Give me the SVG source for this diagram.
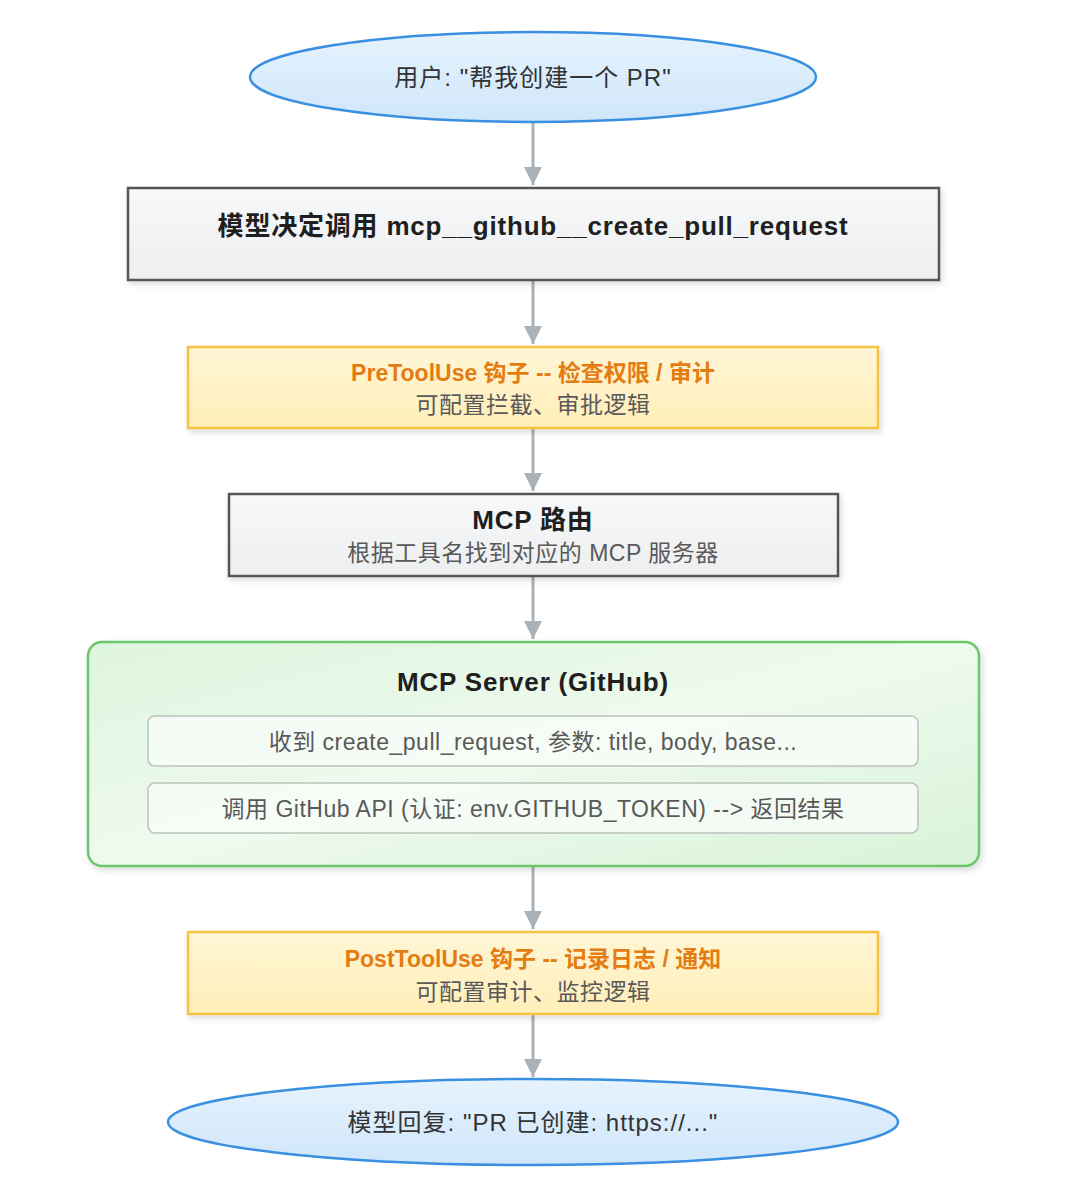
<svg xmlns="http://www.w3.org/2000/svg" width="1080" height="1188" viewBox="0 0 1080 1188">
<defs>
<style>
text{font-family:"Liberation Sans","Noto Sans CJK SC",sans-serif;text-anchor:middle;dominant-baseline:central}
.t{font-size:26px;font-weight:bold;fill:#1f1f1f;letter-spacing:0.8px}
.e{font-size:24px;fill:#333333;letter-spacing:1px}
.o{font-size:23px;font-weight:bold;fill:#e57c12}
.s{font-size:23px;fill:#595959;letter-spacing:0.5px}
.conn line{stroke:#a9b1b9;stroke-width:3;marker-end:url(#ah)}
</style>
<linearGradient id="gb" x1="0" y1="0" x2="0" y2="1"><stop offset="0" stop-color="#e6f3fd"/><stop offset="1" stop-color="#cfe6fa"/></linearGradient>
<linearGradient id="gg" x1="0" y1="0" x2="0" y2="1"><stop offset="0" stop-color="#f7f8f9"/><stop offset="1" stop-color="#eceef0"/></linearGradient>
<linearGradient id="gy" x1="0" y1="0" x2="0" y2="1"><stop offset="0" stop-color="#fff6d6"/><stop offset="1" stop-color="#ffeeb8"/></linearGradient>
<linearGradient id="gn" x1="0" y1="0" x2="1" y2="1"><stop offset="0" stop-color="#def5de"/><stop offset="0.5" stop-color="#eefaee"/><stop offset="1" stop-color="#d8f2d8"/></linearGradient>
<filter id="sh" x="-5%" y="-10%" width="110%" height="130%"><feDropShadow dx="2" dy="3" stdDeviation="3" flood-color="#000" flood-opacity="0.15"/></filter>
<marker id="ah" viewBox="0 0 10 10" refX="10" refY="5" markerWidth="6" markerHeight="6" orient="auto" markerUnits="strokeWidth"><path d="M0,0 L10,5 L0,10 z" fill="#a9b1b9"/></marker>
</defs>
<rect width="1080" height="1188" fill="#ffffff"/>
<g class="conn">
<line x1="533" y1="123" x2="533" y2="185"/>
<line x1="533" y1="281" x2="533" y2="344"/>
<line x1="533" y1="429" x2="533" y2="491"/>
<line x1="533" y1="577" x2="533" y2="639"/>
<line x1="533" y1="867" x2="533" y2="929"/>
<line x1="533" y1="1015" x2="533" y2="1077"/>
</g>
<g id="start">
<ellipse cx="533" cy="77" rx="283" ry="45" fill="url(#gb)" stroke="#3a8fe0" stroke-width="2.5"/>
<text class="e" x="533" y="77">用户: "帮我创建一个 PR"</text>
</g>
<g id="decide">
<rect x="128" y="188" width="811" height="92" fill="url(#gg)" stroke="#555" stroke-width="2.5" filter="url(#sh)"/>
<text class="t" x="533" y="226">模型决定调用 mcp__github__create_pull_request</text>
</g>
<g id="pre">
<rect x="188" y="347" width="690" height="81" fill="url(#gy)" stroke="#f6c243" stroke-width="2.5" filter="url(#sh)"/>
<text class="o" x="533" y="373">PreToolUse 钩子 -- 检查权限 / 审计</text>
<text class="s" x="533" y="405">可配置拦截、审批逻辑</text>
</g>
<g id="route">
<rect x="229" y="494" width="609" height="82" fill="url(#gg)" stroke="#555" stroke-width="2.5" filter="url(#sh)"/>
<text class="t" x="533" y="520">MCP 路由</text>
<text class="s" x="533" y="553">根据工具名找到对应的 MCP 服务器</text>
</g>
<g id="server">
<rect x="88" y="642" width="891" height="224" rx="14" fill="url(#gn)" stroke="#6cc76c" stroke-width="2.5" filter="url(#sh)"/>
<text class="t" x="533" y="682">MCP Server (GitHub)</text>
<rect x="148" y="716" width="770" height="50" rx="7" fill="#f7fbf7" fill-opacity="0.85" stroke="#bcc2bc" stroke-width="1.5"/>
<text class="s" x="533" y="742">收到 create_pull_request, 参数: title, body, base...</text>
<rect x="148" y="783" width="770" height="50" rx="7" fill="#f7fbf7" fill-opacity="0.85" stroke="#bcc2bc" stroke-width="1.5"/>
<text class="s" x="533" y="809">调用 GitHub API (认证: env.GITHUB_TOKEN) --&gt; 返回结果</text>
</g>
<g id="post">
<rect x="188" y="932" width="690" height="82" fill="url(#gy)" stroke="#f6c243" stroke-width="2.5" filter="url(#sh)"/>
<text class="o" x="533" y="959">PostToolUse 钩子 -- 记录日志 / 通知</text>
<text class="s" x="533" y="992">可配置审计、监控逻辑</text>
</g>
<g id="end">
<ellipse cx="533" cy="1122" rx="365" ry="43" fill="url(#gb)" stroke="#3a8fe0" stroke-width="2.5"/>
<text class="e" x="533" y="1122">模型回复: "PR 已创建: https://..."</text>
</g>
</svg>
